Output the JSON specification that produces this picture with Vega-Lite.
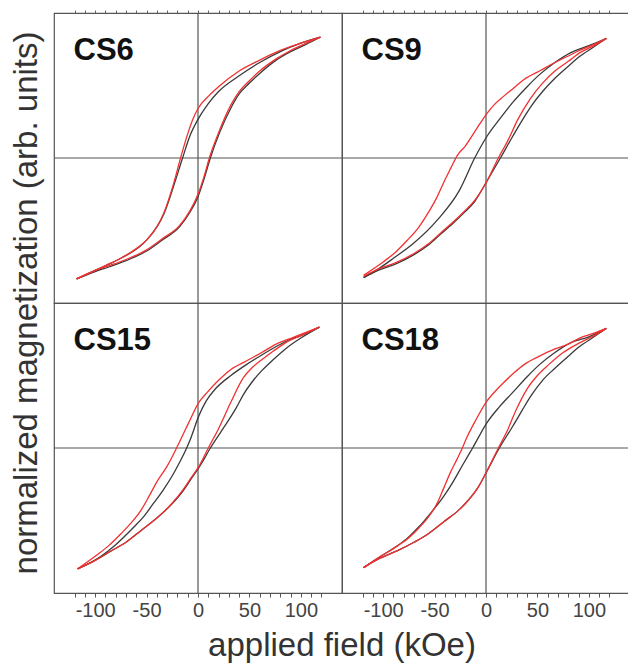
{
"$schema":"https://vega.github.io/schema/vega-lite/v6.json",
"background":"white",
"bounds":"flush",
"padding":{"left":10,"top":9,"right":0,"bottom":0},
"datasets":{
"panels":[{"p":"CS6","r":1,"k":1},{"p":"CS9","r":1,"k":2},{"p":"CS15","r":2,"k":1},{"p":"CS18","r":2,"k":2}],
"loops":[
{"p":"CS6","s":"k","b":"u","h":119,"m":1.0},{"p":"CS6","s":"k","b":"u","h":100,"m":0.95},{"p":"CS6","s":"k","b":"u","h":80,"m":0.88},{"p":"CS6","s":"k","b":"u","h":60,"m":0.79},{"p":"CS6","s":"k","b":"u","h":40,"m":0.68},{"p":"CS6","s":"k","b":"u","h":20,"m":0.55},{"p":"CS6","s":"k","b":"u","h":10,"m":0.45},{"p":"CS6","s":"k","b":"u","h":0,"m":0.32},{"p":"CS6","s":"k","b":"u","h":-8,"m":0.18},{"p":"CS6","s":"k","b":"u","h":-15,"m":0.0},{"p":"CS6","s":"k","b":"u","h":-24,"m":-0.24},{"p":"CS6","s":"k","b":"u","h":-33,"m":-0.46},{"p":"CS6","s":"k","b":"u","h":-50,"m":-0.68},{"p":"CS6","s":"k","b":"u","h":-75,"m":-0.83},{"p":"CS6","s":"k","b":"u","h":-100,"m":-0.93},{"p":"CS6","s":"k","b":"u","h":-118,"m":-1.0},
{"p":"CS6","s":"k","b":"l","h":-118,"m":-1.0},{"p":"CS6","s":"k","b":"l","h":-100,"m":-0.94},{"p":"CS6","s":"k","b":"l","h":-86,"m":-0.9},{"p":"CS6","s":"k","b":"l","h":-70,"m":-0.85},{"p":"CS6","s":"k","b":"l","h":-50,"m":-0.77},{"p":"CS6","s":"k","b":"l","h":-35,"m":-0.68},{"p":"CS6","s":"k","b":"l","h":-18,"m":-0.57},{"p":"CS6","s":"k","b":"l","h":-8,"m":-0.45},{"p":"CS6","s":"k","b":"l","h":0,"m":-0.32},{"p":"CS6","s":"k","b":"l","h":6,"m":-0.17},{"p":"CS6","s":"k","b":"l","h":12,"m":0.0},{"p":"CS6","s":"k","b":"l","h":21,"m":0.21},{"p":"CS6","s":"k","b":"l","h":33,"m":0.43},{"p":"CS6","s":"k","b":"l","h":40,"m":0.53},{"p":"CS6","s":"k","b":"l","h":50,"m":0.62},{"p":"CS6","s":"k","b":"l","h":60,"m":0.7},{"p":"CS6","s":"k","b":"l","h":76,"m":0.81},{"p":"CS6","s":"k","b":"l","h":90,"m":0.88},{"p":"CS6","s":"k","b":"l","h":105,"m":0.94},{"p":"CS6","s":"k","b":"l","h":119,"m":1.0},
{"p":"CS9","s":"k","b":"u","h":117,"m":0.99},{"p":"CS9","s":"k","b":"u","h":100,"m":0.93},{"p":"CS9","s":"k","b":"u","h":82,"m":0.87},{"p":"CS9","s":"k","b":"u","h":67,"m":0.79},{"p":"CS9","s":"k","b":"u","h":52,"m":0.69},{"p":"CS9","s":"k","b":"u","h":40,"m":0.59},{"p":"CS9","s":"k","b":"u","h":26,"m":0.46},{"p":"CS9","s":"k","b":"u","h":14,"m":0.33},{"p":"CS9","s":"k","b":"u","h":1,"m":0.18},{"p":"CS9","s":"k","b":"u","h":-11,"m":0.0},{"p":"CS9","s":"k","b":"u","h":-26,"m":-0.27},{"p":"CS9","s":"k","b":"u","h":-47,"m":-0.51},{"p":"CS9","s":"k","b":"u","h":-71,"m":-0.71},{"p":"CS9","s":"k","b":"u","h":-90,"m":-0.83},{"p":"CS9","s":"k","b":"u","h":-105,"m":-0.92},{"p":"CS9","s":"k","b":"u","h":-119,"m":-0.99},
{"p":"CS9","s":"k","b":"l","h":-119,"m":-0.99},{"p":"CS9","s":"k","b":"l","h":-105,"m":-0.93},{"p":"CS9","s":"k","b":"l","h":-86,"m":-0.87},{"p":"CS9","s":"k","b":"l","h":-70,"m":-0.8},{"p":"CS9","s":"k","b":"l","h":-56,"m":-0.72},{"p":"CS9","s":"k","b":"l","h":-44,"m":-0.63},{"p":"CS9","s":"k","b":"l","h":-32,"m":-0.54},{"p":"CS9","s":"k","b":"l","h":-21,"m":-0.45},{"p":"CS9","s":"k","b":"l","h":-11,"m":-0.36},{"p":"CS9","s":"k","b":"l","h":1,"m":-0.19},{"p":"CS9","s":"k","b":"l","h":14,"m":0.0},{"p":"CS9","s":"k","b":"l","h":26,"m":0.18},{"p":"CS9","s":"k","b":"l","h":35,"m":0.31},{"p":"CS9","s":"k","b":"l","h":44,"m":0.43},{"p":"CS9","s":"k","b":"l","h":55,"m":0.55},{"p":"CS9","s":"k","b":"l","h":67,"m":0.66},{"p":"CS9","s":"k","b":"l","h":80,"m":0.76},{"p":"CS9","s":"k","b":"l","h":91,"m":0.84},{"p":"CS9","s":"k","b":"l","h":105,"m":0.92},{"p":"CS9","s":"k","b":"l","h":117,"m":0.99},
{"p":"CS15","s":"k","b":"u","h":118,"m":1.0},{"p":"CS15","s":"k","b":"u","h":100,"m":0.93},{"p":"CS15","s":"k","b":"u","h":90,"m":0.9},{"p":"CS15","s":"k","b":"u","h":76,"m":0.84},{"p":"CS15","s":"k","b":"u","h":62,"m":0.77},{"p":"CS15","s":"k","b":"u","h":47,"m":0.69},{"p":"CS15","s":"k","b":"u","h":32,"m":0.6},{"p":"CS15","s":"k","b":"u","h":17,"m":0.49},{"p":"CS15","s":"k","b":"u","h":8,"m":0.39},{"p":"CS15","s":"k","b":"u","h":1,"m":0.27},{"p":"CS15","s":"k","b":"u","h":-8,"m":0.06},{"p":"CS15","s":"k","b":"u","h":-11,"m":0.0},{"p":"CS15","s":"k","b":"u","h":-18,"m":-0.12},{"p":"CS15","s":"k","b":"u","h":-25,"m":-0.23},{"p":"CS15","s":"k","b":"u","h":-34,"m":-0.35},{"p":"CS15","s":"k","b":"u","h":-43,"m":-0.455},{"p":"CS15","s":"k","b":"u","h":-53,"m":-0.57},{"p":"CS15","s":"k","b":"u","h":-63,"m":-0.66},{"p":"CS15","s":"k","b":"u","h":-80,"m":-0.8},{"p":"CS15","s":"k","b":"u","h":-95,"m":-0.9},{"p":"CS15","s":"k","b":"u","h":-117,"m":-1.0},
{"p":"CS15","s":"k","b":"l","h":-117,"m":-1.0},{"p":"CS15","s":"k","b":"l","h":-100,"m":-0.93},{"p":"CS15","s":"k","b":"l","h":-84,"m":-0.85},{"p":"CS15","s":"k","b":"l","h":-70,"m":-0.78},{"p":"CS15","s":"k","b":"l","h":-55,"m":-0.68},{"p":"CS15","s":"k","b":"l","h":-40,"m":-0.58},{"p":"CS15","s":"k","b":"l","h":-25,"m":-0.46},{"p":"CS15","s":"k","b":"l","h":-15,"m":-0.36},{"p":"CS15","s":"k","b":"l","h":-7,"m":-0.26},{"p":"CS15","s":"k","b":"l","h":1,"m":-0.16},{"p":"CS15","s":"k","b":"l","h":6,"m":-0.09},{"p":"CS15","s":"k","b":"l","h":12,"m":0.0},{"p":"CS15","s":"k","b":"l","h":22,"m":0.13},{"p":"CS15","s":"k","b":"l","h":29,"m":0.22},{"p":"CS15","s":"k","b":"l","h":37,"m":0.33},{"p":"CS15","s":"k","b":"l","h":44,"m":0.44},{"p":"CS15","s":"k","b":"l","h":52,"m":0.54},{"p":"CS15","s":"k","b":"l","h":62,"m":0.64},{"p":"CS15","s":"k","b":"l","h":73,"m":0.73},{"p":"CS15","s":"k","b":"l","h":85,"m":0.82},{"p":"CS15","s":"k","b":"l","h":100,"m":0.91},{"p":"CS15","s":"k","b":"l","h":118,"m":1.0},
{"p":"CS18","s":"k","b":"u","h":117,"m":0.99},{"p":"CS18","s":"k","b":"u","h":100,"m":0.92},{"p":"CS18","s":"k","b":"u","h":82,"m":0.87},{"p":"CS18","s":"k","b":"u","h":67,"m":0.79},{"p":"CS18","s":"k","b":"u","h":52,"m":0.69},{"p":"CS18","s":"k","b":"u","h":40,"m":0.59},{"p":"CS18","s":"k","b":"u","h":26,"m":0.46},{"p":"CS18","s":"k","b":"u","h":13,"m":0.34},{"p":"CS18","s":"k","b":"u","h":1,"m":0.21},{"p":"CS18","s":"k","b":"u","h":-13,"m":0.0},{"p":"CS18","s":"k","b":"u","h":-22,"m":-0.13},{"p":"CS18","s":"k","b":"u","h":-32,"m":-0.28},{"p":"CS18","s":"k","b":"u","h":-42,"m":-0.41},{"p":"CS18","s":"k","b":"u","h":-53,"m":-0.53},{"p":"CS18","s":"k","b":"u","h":-65,"m":-0.65},{"p":"CS18","s":"k","b":"u","h":-77,"m":-0.75},{"p":"CS18","s":"k","b":"u","h":-88,"m":-0.82},{"p":"CS18","s":"k","b":"u","h":-105,"m":-0.91},{"p":"CS18","s":"k","b":"u","h":-119,"m":-0.99},
{"p":"CS18","s":"k","b":"l","h":-119,"m":-0.99},{"p":"CS18","s":"k","b":"l","h":-105,"m":-0.92},{"p":"CS18","s":"k","b":"l","h":-86,"m":-0.85},{"p":"CS18","s":"k","b":"l","h":-70,"m":-0.78},{"p":"CS18","s":"k","b":"l","h":-56,"m":-0.71},{"p":"CS18","s":"k","b":"l","h":-41,"m":-0.61},{"p":"CS18","s":"k","b":"l","h":-26,"m":-0.51},{"p":"CS18","s":"k","b":"l","h":-17,"m":-0.43},{"p":"CS18","s":"k","b":"l","h":-8,"m":-0.33},{"p":"CS18","s":"k","b":"l","h":1,"m":-0.19},{"p":"CS18","s":"k","b":"l","h":13,"m":0.0},{"p":"CS18","s":"k","b":"l","h":26,"m":0.18},{"p":"CS18","s":"k","b":"l","h":35,"m":0.31},{"p":"CS18","s":"k","b":"l","h":44,"m":0.435},{"p":"CS18","s":"k","b":"l","h":55,"m":0.56},{"p":"CS18","s":"k","b":"l","h":67,"m":0.66},{"p":"CS18","s":"k","b":"l","h":80,"m":0.76},{"p":"CS18","s":"k","b":"l","h":91,"m":0.84},{"p":"CS18","s":"k","b":"l","h":105,"m":0.92},{"p":"CS18","s":"k","b":"l","h":117,"m":0.99},
{"p":"CS6","s":"r","b":"u","h":119,"m":1.0},{"p":"CS6","s":"r","b":"u","h":100,"m":0.95},{"p":"CS6","s":"r","b":"u","h":80,"m":0.89},{"p":"CS6","s":"r","b":"u","h":60,"m":0.81},{"p":"CS6","s":"r","b":"u","h":40,"m":0.72},{"p":"CS6","s":"r","b":"u","h":20,"m":0.59},{"p":"CS6","s":"r","b":"u","h":10,"m":0.51},{"p":"CS6","s":"r","b":"u","h":0,"m":0.41},{"p":"CS6","s":"r","b":"u","h":-5,"m":0.32},{"p":"CS6","s":"r","b":"u","h":-10,"m":0.2},{"p":"CS6","s":"r","b":"u","h":-16,"m":0.03},{"p":"CS6","s":"r","b":"u","h":-24,"m":-0.22},{"p":"CS6","s":"r","b":"u","h":-33,"m":-0.45},{"p":"CS6","s":"r","b":"u","h":-40,"m":-0.57},{"p":"CS6","s":"r","b":"u","h":-50,"m":-0.68},{"p":"CS6","s":"r","b":"u","h":-60,"m":-0.75},{"p":"CS6","s":"r","b":"u","h":-75,"m":-0.83},{"p":"CS6","s":"r","b":"u","h":-90,"m":-0.89},{"p":"CS6","s":"r","b":"u","h":-105,"m":-0.95},{"p":"CS6","s":"r","b":"u","h":-118,"m":-1.0},
{"p":"CS6","s":"r","b":"l","h":-118,"m":-1.0},{"p":"CS6","s":"r","b":"l","h":-100,"m":-0.93},{"p":"CS6","s":"r","b":"l","h":-86,"m":-0.89},{"p":"CS6","s":"r","b":"l","h":-70,"m":-0.84},{"p":"CS6","s":"r","b":"l","h":-50,"m":-0.76},{"p":"CS6","s":"r","b":"l","h":-35,"m":-0.67},{"p":"CS6","s":"r","b":"l","h":-18,"m":-0.56},{"p":"CS6","s":"r","b":"l","h":-8,"m":-0.44},{"p":"CS6","s":"r","b":"l","h":0,"m":-0.3},{"p":"CS6","s":"r","b":"l","h":6,"m":-0.15},{"p":"CS6","s":"r","b":"l","h":11,"m":0.0},{"p":"CS6","s":"r","b":"l","h":20,"m":0.21},{"p":"CS6","s":"r","b":"l","h":32,"m":0.44},{"p":"CS6","s":"r","b":"l","h":40,"m":0.55},{"p":"CS6","s":"r","b":"l","h":50,"m":0.64},{"p":"CS6","s":"r","b":"l","h":60,"m":0.72},{"p":"CS6","s":"r","b":"l","h":76,"m":0.82},{"p":"CS6","s":"r","b":"l","h":90,"m":0.89},{"p":"CS6","s":"r","b":"l","h":105,"m":0.95},{"p":"CS6","s":"r","b":"l","h":119,"m":1.0},
{"p":"CS9","s":"r","b":"u","h":117,"m":0.99},{"p":"CS9","s":"r","b":"u","h":105,"m":0.94},{"p":"CS9","s":"r","b":"u","h":91,"m":0.89},{"p":"CS9","s":"r","b":"u","h":79,"m":0.84},{"p":"CS9","s":"r","b":"u","h":67,"m":0.79},{"p":"CS9","s":"r","b":"u","h":52,"m":0.72},{"p":"CS9","s":"r","b":"u","h":37,"m":0.65},{"p":"CS9","s":"r","b":"u","h":27,"m":0.58},{"p":"CS9","s":"r","b":"u","h":17,"m":0.51},{"p":"CS9","s":"r","b":"u","h":9,"m":0.45},{"p":"CS9","s":"r","b":"u","h":1,"m":0.37},{"p":"CS9","s":"r","b":"u","h":-10,"m":0.23},{"p":"CS9","s":"r","b":"u","h":-20,"m":0.1},{"p":"CS9","s":"r","b":"u","h":-28,"m":0.02},{"p":"CS9","s":"r","b":"u","h":-34,"m":-0.08},{"p":"CS9","s":"r","b":"u","h":-41,"m":-0.2},{"p":"CS9","s":"r","b":"u","h":-48,"m":-0.33},{"p":"CS9","s":"r","b":"u","h":-56,"m":-0.45},{"p":"CS9","s":"r","b":"u","h":-66,"m":-0.58},{"p":"CS9","s":"r","b":"u","h":-77,"m":-0.685},{"p":"CS9","s":"r","b":"u","h":-88,"m":-0.78},{"p":"CS9","s":"r","b":"u","h":-100,"m":-0.86},{"p":"CS9","s":"r","b":"u","h":-119,"m":-0.97},
{"p":"CS9","s":"r","b":"l","h":-119,"m":-0.98},{"p":"CS9","s":"r","b":"l","h":-105,"m":-0.92},{"p":"CS9","s":"r","b":"l","h":-86,"m":-0.86},{"p":"CS9","s":"r","b":"l","h":-70,"m":-0.79},{"p":"CS9","s":"r","b":"l","h":-56,"m":-0.71},{"p":"CS9","s":"r","b":"l","h":-44,"m":-0.62},{"p":"CS9","s":"r","b":"l","h":-32,"m":-0.53},{"p":"CS9","s":"r","b":"l","h":-21,"m":-0.44},{"p":"CS9","s":"r","b":"l","h":-11,"m":-0.35},{"p":"CS9","s":"r","b":"l","h":1,"m":-0.19},{"p":"CS9","s":"r","b":"l","h":12,"m":0.0},{"p":"CS9","s":"r","b":"l","h":21,"m":0.14},{"p":"CS9","s":"r","b":"l","h":31,"m":0.32},{"p":"CS9","s":"r","b":"l","h":43,"m":0.49},{"p":"CS9","s":"r","b":"l","h":55,"m":0.62},{"p":"CS9","s":"r","b":"l","h":67,"m":0.72},{"p":"CS9","s":"r","b":"l","h":80,"m":0.8},{"p":"CS9","s":"r","b":"l","h":91,"m":0.87},{"p":"CS9","s":"r","b":"l","h":105,"m":0.93},{"p":"CS9","s":"r","b":"l","h":117,"m":0.99},
{"p":"CS15","s":"r","b":"u","h":118,"m":1.0},{"p":"CS15","s":"r","b":"u","h":100,"m":0.94},{"p":"CS15","s":"r","b":"u","h":91,"m":0.91},{"p":"CS15","s":"r","b":"u","h":76,"m":0.86},{"p":"CS15","s":"r","b":"u","h":62,"m":0.79},{"p":"CS15","s":"r","b":"u","h":47,"m":0.72},{"p":"CS15","s":"r","b":"u","h":32,"m":0.65},{"p":"CS15","s":"r","b":"u","h":20,"m":0.56},{"p":"CS15","s":"r","b":"u","h":9,"m":0.46},{"p":"CS15","s":"r","b":"u","h":1,"m":0.38},{"p":"CS15","s":"r","b":"u","h":-9,"m":0.21},{"p":"CS15","s":"r","b":"u","h":-18,"m":0.05},{"p":"CS15","s":"r","b":"u","h":-22,"m":-0.02},{"p":"CS15","s":"r","b":"u","h":-30,"m":-0.15},{"p":"CS15","s":"r","b":"u","h":-40,"m":-0.28},{"p":"CS15","s":"r","b":"u","h":-47,"m":-0.39},{"p":"CS15","s":"r","b":"u","h":-55,"m":-0.51},{"p":"CS15","s":"r","b":"u","h":-65,"m":-0.62},{"p":"CS15","s":"r","b":"u","h":-75,"m":-0.71},{"p":"CS15","s":"r","b":"u","h":-87,"m":-0.81},{"p":"CS15","s":"r","b":"u","h":-99,"m":-0.89},{"p":"CS15","s":"r","b":"u","h":-117,"m":-1.0},
{"p":"CS15","s":"r","b":"l","h":-117,"m":-1.0},{"p":"CS15","s":"r","b":"l","h":-100,"m":-0.93},{"p":"CS15","s":"r","b":"l","h":-84,"m":-0.85},{"p":"CS15","s":"r","b":"l","h":-70,"m":-0.78},{"p":"CS15","s":"r","b":"l","h":-55,"m":-0.68},{"p":"CS15","s":"r","b":"l","h":-40,"m":-0.58},{"p":"CS15","s":"r","b":"l","h":-25,"m":-0.455},{"p":"CS15","s":"r","b":"l","h":-15,"m":-0.35},{"p":"CS15","s":"r","b":"l","h":-7,"m":-0.25},{"p":"CS15","s":"r","b":"l","h":1,"m":-0.15},{"p":"CS15","s":"r","b":"l","h":10,"m":0.0},{"p":"CS15","s":"r","b":"l","h":20,"m":0.16},{"p":"CS15","s":"r","b":"l","h":32,"m":0.38},{"p":"CS15","s":"r","b":"l","h":44,"m":0.58},{"p":"CS15","s":"r","b":"l","h":52,"m":0.66},{"p":"CS15","s":"r","b":"l","h":62,"m":0.73},{"p":"CS15","s":"r","b":"l","h":73,"m":0.8},{"p":"CS15","s":"r","b":"l","h":85,"m":0.87},{"p":"CS15","s":"r","b":"l","h":100,"m":0.93},{"p":"CS15","s":"r","b":"l","h":118,"m":1.0},
{"p":"CS18","s":"r","b":"u","h":117,"m":0.99},{"p":"CS18","s":"r","b":"u","h":105,"m":0.95},{"p":"CS18","s":"r","b":"u","h":91,"m":0.91},{"p":"CS18","s":"r","b":"u","h":80,"m":0.86},{"p":"CS18","s":"r","b":"u","h":67,"m":0.82},{"p":"CS18","s":"r","b":"u","h":52,"m":0.76},{"p":"CS18","s":"r","b":"u","h":37,"m":0.69},{"p":"CS18","s":"r","b":"u","h":27,"m":0.62},{"p":"CS18","s":"r","b":"u","h":17,"m":0.54},{"p":"CS18","s":"r","b":"u","h":9,"m":0.47},{"p":"CS18","s":"r","b":"u","h":1,"m":0.39},{"p":"CS18","s":"r","b":"u","h":-10,"m":0.23},{"p":"CS18","s":"r","b":"u","h":-19,"m":0.08},{"p":"CS18","s":"r","b":"u","h":-23,"m":0.0},{"p":"CS18","s":"r","b":"u","h":-28,"m":-0.09},{"p":"CS18","s":"r","b":"u","h":-35,"m":-0.21},{"p":"CS18","s":"r","b":"u","h":-41,"m":-0.33},{"p":"CS18","s":"r","b":"u","h":-47,"m":-0.45},{"p":"CS18","s":"r","b":"u","h":-55,"m":-0.56},{"p":"CS18","s":"r","b":"u","h":-65,"m":-0.66},{"p":"CS18","s":"r","b":"u","h":-76,"m":-0.75},{"p":"CS18","s":"r","b":"u","h":-86,"m":-0.81},{"p":"CS18","s":"r","b":"u","h":-105,"m":-0.91},{"p":"CS18","s":"r","b":"u","h":-119,"m":-0.99},
{"p":"CS18","s":"r","b":"l","h":-119,"m":-0.99},{"p":"CS18","s":"r","b":"l","h":-105,"m":-0.92},{"p":"CS18","s":"r","b":"l","h":-86,"m":-0.85},{"p":"CS18","s":"r","b":"l","h":-70,"m":-0.78},{"p":"CS18","s":"r","b":"l","h":-56,"m":-0.71},{"p":"CS18","s":"r","b":"l","h":-41,"m":-0.61},{"p":"CS18","s":"r","b":"l","h":-26,"m":-0.51},{"p":"CS18","s":"r","b":"l","h":-17,"m":-0.43},{"p":"CS18","s":"r","b":"l","h":-8,"m":-0.33},{"p":"CS18","s":"r","b":"l","h":1,"m":-0.19},{"p":"CS18","s":"r","b":"l","h":12,"m":0.0},{"p":"CS18","s":"r","b":"l","h":20,"m":0.13},{"p":"CS18","s":"r","b":"l","h":29,"m":0.31},{"p":"CS18","s":"r","b":"l","h":40,"m":0.49},{"p":"CS18","s":"r","b":"l","h":50,"m":0.6},{"p":"CS18","s":"r","b":"l","h":61,"m":0.69},{"p":"CS18","s":"r","b":"l","h":75,"m":0.79},{"p":"CS18","s":"r","b":"l","h":91,"m":0.87},{"p":"CS18","s":"r","b":"l","h":105,"m":0.93},{"p":"CS18","s":"r","b":"l","h":117,"m":0.99}
]
},
"data":{"name":"loops"},
"transform":[{"lookup":"p","from":{"data":{"name":"panels"},"key":"p","fields":["r","k"]}}],
"facet":{
"row":{"field":"r","type":"ordinal","header":{"title":"normalized magnetization (arb. units)","labels":false,"labelPadding":0,"titleFontSize":33,"titleFont":"Liberation Sans","titleFontWeight":"normal","titleColor":"#333","titlePadding":0}},
"column":{"field":"k","type":"ordinal","header":{"title":"applied field (kOe)","titleOrient":"bottom","labels":false,"labelPadding":0,"titleFontSize":33,"titleFont":"Liberation Sans","titleFontWeight":"normal","titleColor":"#333","titlePadding":0}}
},
"spacing":0,
"spec":{
"width":288,"height":290,
"resolve":{"axis":{"x":"independent","y":"independent"}},
"layer":[
{"transform":[{"aggregate":[{"op":"count","as":"n"}],"groupby":["p","r","k"]}],
 "mark":{"type":"rule","color":"#555","strokeWidth":1.2},
 "encoding":{"y":{"datum":0,"type":"quantitative","scale":{"domain":[-1.11,1.11]},"axis":null}}},
{"transform":[{"aggregate":[{"op":"count","as":"n"}],"groupby":["p","r","k"]}],
 "mark":{"type":"rule","color":"#555","strokeWidth":1.2},
 "encoding":{"x":{"datum":0,"type":"quantitative","scale":{"domain":[-129,128]},
   "axis":{"orient":"top","labels":false,"title":null,"domain":false,"grid":false,"tickSize":3,"tickColor":"#666",
   "values":[-120,-110,-100,-90,-80,-70,-60,-50,-40,-30,-20,-10,0,10,20,30,40,50,60,70,80,90,100,110,120]}}}},
{"mark":{"type":"line","strokeWidth":1.3,"interpolate":"monotone"},
 "encoding":{
  "x":{"field":"h","type":"quantitative","scale":{"domain":[-129,128]},
   "axis":{"orient":"bottom","title":null,"domain":false,"grid":false,"tickSize":4,"tickColor":"#555","labelFontSize":20,"labelFont":"Liberation Sans","labelColor":"#444","labelPadding":3,"labelOverlap":false,"labelFlush":false,
   "values":[-120,-110,-100,-90,-80,-70,-60,-50,-40,-30,-20,-10,0,10,20,30,40,50,60,70,80,90,100,110,120],
   "labelExpr":"datum.value % 50 == 0 ? '' + datum.value : ''"}},
  "y":{"field":"m","type":"quantitative","scale":{"domain":[-1.11,1.11]},"axis":null},
  "color":{"field":"s","type":"nominal","scale":{"domain":["k","r"],"range":["#3a3a3a","#f23030"]},"legend":null},
  "detail":{"field":"b"}
 }},
{"transform":[{"aggregate":[{"op":"count","as":"n"}],"groupby":["p","r","k"]}],
 "mark":{"type":"text","align":"left","baseline":"alphabetic","font":"Liberation Sans","fontWeight":"bold","fontSize":31,"color":"#111"},
 "encoding":{"x":{"datum":-121,"type":"quantitative","axis":null},"y":{"datum":0.81,"type":"quantitative","axis":null},"text":{"field":"p"}}}
]
},
"config":{"view":{"stroke":"#555","strokeWidth":1.2}}
}
